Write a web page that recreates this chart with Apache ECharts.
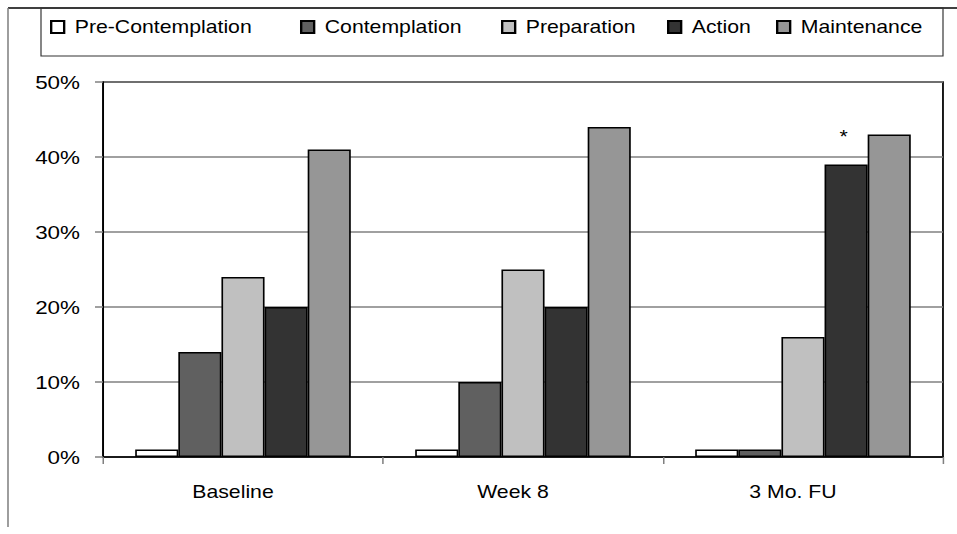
<!DOCTYPE html>
<html>
<head>
<meta charset="utf-8">
<script src="https://cdn.jsdelivr.net/npm/echarts@6/dist/echarts.min.js"></script>
<style>
  html, body { margin: 0; padding: 0; background: #fff; overflow: hidden; }
  /* The chart is laid out in a narrower box and widened horizontally,
     which gives the broad lettering of the original spreadsheet figure. */
  #chart { height: 534px; transform-origin: 0 0; }
</style>
</head>
<body>
<div id="chart"></div>
<script>
// Time points on the category axis
const timepoints = ['Baseline', 'Week 8', '3 Mo. FU'];

// Percentage of participants in each stage of change
const preContemplation = [1, 1, 1];
const contemplation    = [14, 10, 1];
const preparation      = [24, 25, 16];
const action           = [20, 20, 39];
const maintenance      = [41, 44, 43];

// Y axis ticks
const yTicks = [0, 10, 20, 30, 40, 50];

// Significance marker shown above the 3-month Action bar
const actionMarks = ['', '', '*'];

const stages = [
  { name: 'Pre-Contemplation', values: preContemplation, color: '#ffffff' },
  { name: 'Contemplation',     values: contemplation,    color: '#606060' },
  { name: 'Preparation',       values: preparation,      color: '#c0c0c0' },
  { name: 'Action',            values: action,           color: '#333333' },
  { name: 'Maintenance',       values: maintenance,      color: '#969696' }
];

const FONT = 'Arial, "Liberation Sans", sans-serif';
const STRETCH = 1.18;                 // horizontal widening factor
const W = 957, H = 534;
const sx = x => x / STRETCH;          // page x -> layout x

const el = document.getElementById('chart');
el.style.width = (W / STRETCH) + 'px';
el.style.transform = 'scaleX(' + STRETCH + ')';

// legend entries: left edge of each swatch on the page
const legendLeft = [50, 300, 501, 667, 776];

const chart = echarts.init(el, null, { renderer: 'svg' });

chart.setOption({
  animation: false,
  backgroundColor: '#ffffff',
  graphic: [
    // outer chart frame
    { type: 'line', shape: { x1: sx(8), y1: 8, x2: sx(W), y2: 8 }, style: { stroke: '#000', lineWidth: 1.5 } },
    { type: 'line', shape: { x1: sx(8), y1: 8, x2: sx(8), y2: 527 }, style: { stroke: '#808080', lineWidth: 1.3 } },
    // legend frame
    { type: 'rect', shape: { x: sx(41), y: 8, width: sx(943) - sx(41), height: 48 },
      style: { fill: 'none', stroke: '#333', lineWidth: 1 }, z: 1 }
  ],
  legend: stages.map((s, i) => ({
    data: [s.name],
    left: sx(legendLeft[i]),
    top: 18,
    icon: 'rect',
    itemWidth: 11,
    itemHeight: 12,
    itemGap: 0,
    textStyle: { fontFamily: FONT, fontSize: 18, color: '#000', padding: [0, 0, 0, 4] },
    padding: 0
  })),
  grid: {
    left: sx(103), right: sx(14), top: 82, bottom: 77,
    show: true, borderColor: '#000', borderWidth: 1.5,
    containLabel: false
  },
  xAxis: {
    type: 'category',
    data: timepoints,
    axisLine: { show: true, lineStyle: { color: '#000', width: 1.5 } },
    axisTick: { show: true, alignWithLabel: false, length: 7, lineStyle: { color: '#808080', width: 1.3 } },
    axisLabel: { fontFamily: FONT, fontSize: 18, color: '#000', margin: 26, padding: [0, sx(20), 0, 0] },
    splitLine: { show: false }
  },
  yAxis: {
    type: 'value',
    min: yTicks[0],
    max: yTicks[yTicks.length - 1],
    interval: 10,
    axisLine: { show: true, lineStyle: { color: '#000', width: 1.3 } },
    axisTick: { show: true, length: sx(8), lineStyle: { color: '#808080', width: 1.5 } },
    axisLabel: { fontFamily: FONT, fontSize: 19, color: '#000', margin: sx(23), formatter: '{value}%' },
    splitLine: { show: true, lineStyle: { color: '#808080', width: 1.5 } }
  },
  series: stages.map((s, i) => ({
    name: s.name,
    type: 'bar',
    data: s.values.map((v, j) => {
      const item = { value: v };
      if (s.name === 'Action' && actionMarks[j]) {
        item.label = {
          show: true, position: 'top', distance: 19, offset: [-2, 0],
          formatter: actionMarks[j],
          fontFamily: FONT, fontSize: 18, color: '#000'
        };
      }
      return item;
    }),
    barGap: '0%',
    barCategoryGap: '23%',
    itemStyle: { color: s.color, borderColor: '#000', borderWidth: 1.4 },
    emphasis: { disabled: true }
  }))
});
</script>
</body>
</html>
